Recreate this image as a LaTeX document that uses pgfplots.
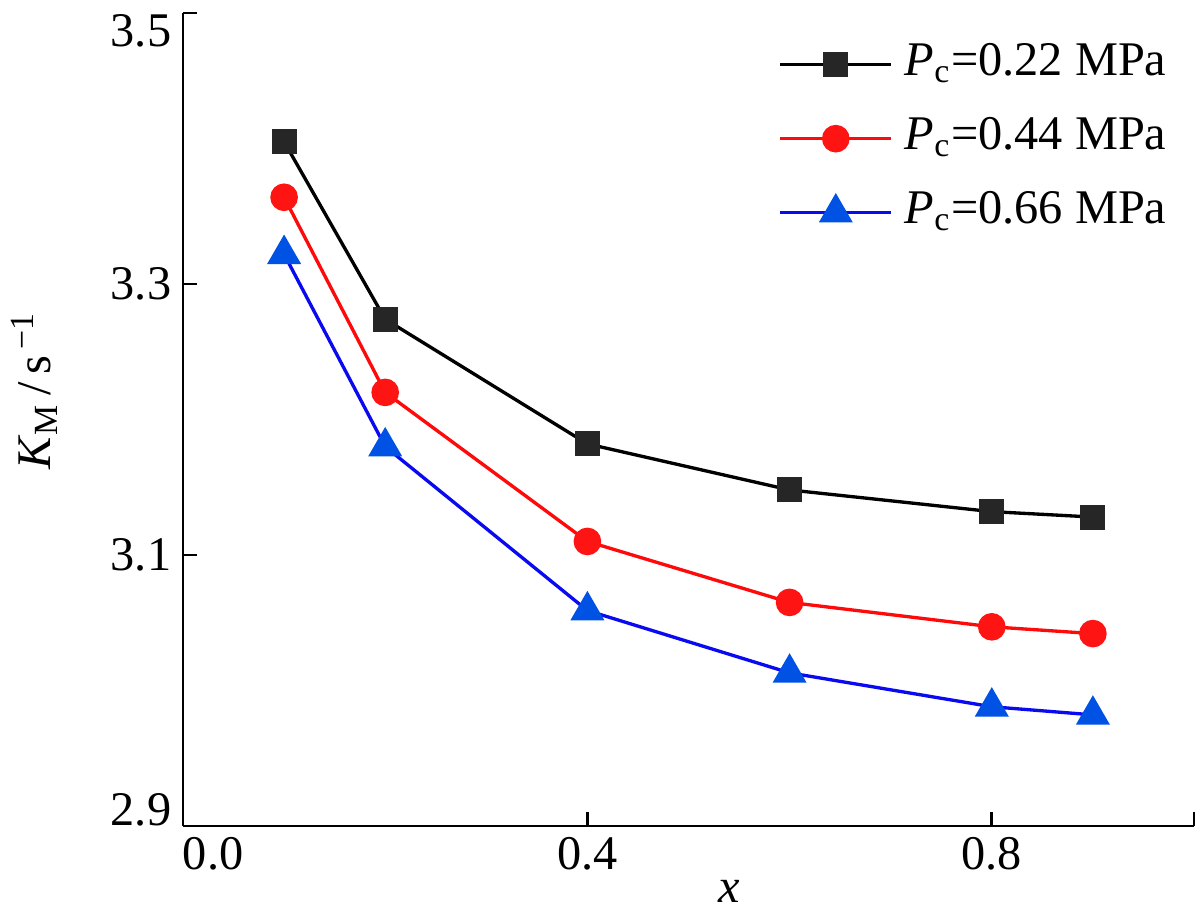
\documentclass[border=0pt]{standalone}
\usepackage{fontspec}
\setmainfont{Liberation Serif}
\usepackage{pgfplots}
\pgfplotsset{compat=1.18}

\definecolor{sqfill}{RGB}{38,38,38}
\definecolor{redline}{RGB}{255,10,10}
\definecolor{redmark}{RGB}{255,20,20}
\definecolor{blueline}{RGB}{10,10,240}
\definecolor{bluemark}{RGB}{0,82,228}

% K_M versus x for three chamber pressures
\pgfplotstableread{
x     k
0.1   3.405
0.2   3.274
0.4   3.182
0.6   3.148
0.8   3.132
0.9   3.128
}\pa
\pgfplotstableread{
x     k
0.1   3.364
0.2   3.220
0.4   3.110
0.6   3.065
0.8   3.047
0.9   3.042
}\pb
\pgfplotstableread{
x     k
0.1   3.322
0.2   3.180
0.4   3.059
0.6   3.013
0.8   2.988
0.9   2.982
}\pc

\begin{document}
\begin{tikzpicture}
\begin{axis}[
  scale only axis,
  width=303.3pt, height=243.9pt,
  xmin=0, xmax=1.0,
  ymin=2.9, ymax=3.5,
  axis lines*=left,
  axis line style={-, line width=0.8pt, black},
  tick align=inside,
  major tick length=4.2pt,
  tick style={line width=0.8pt, black},
  xtick={0,0.4,0.8,1.0},
  % end labels are pulled inside the axis span
  xticklabels={\rlap{0.0},0.4,0.8,{}},
  ytick={2.9,3.1,3.3,3.5},
  yticklabels={\raisebox{0pt}[0pt][0pt]{2.9},3.1,3.3,\raisebox{-0.69em}[0pt][0pt]{3.5}},
  tick label style={font=\fontsize{14.5}{17}\selectfont},
  label style={font=\fontsize{14.5}{17}\selectfont},
  xlabel={\textit{x}},
  ylabel={\textit{K}\textsubscript{M}\,/\,s\textsuperscript{\,−1}},
  xlabel style={at={(axis description cs:0.54,-0.08)}, anchor=center},
  ylabel style={at={(axis description cs:-0.147,0.535)}, anchor=center},
  legend cell align=left,
  legend style={
    at={(axis description cs:0.5885,0.967)}, anchor=north west,
    draw=none, fill=none, inner sep=0pt,
    row sep=7.7pt, column sep=3.6pt,
    font=\fontsize{14.5}{17}\selectfont,
    nodes={inner sep=0pt, text height=10.5pt, text depth=4pt},
  },
  legend image code/.code={
    \draw[mark repeat=2, mark phase=2]
      plot coordinates {(0pt,0pt) (16.65pt,0pt) (33.3pt,0pt)};
  },
]
\addplot[black, line width=1pt, mark=square*, mark size=3.5pt,
  mark options={fill=sqfill, draw=sqfill, line width=0.5pt}]
  table[x=x, y=k] {\pa};
\addlegendentry{\textit{P}\textsubscript{c}=0.22 MPa}
\addplot[redline, line width=1pt, mark=*, mark size=3.9pt,
  mark options={fill=redmark, draw=redmark, line width=0.5pt}]
  table[x=x, y=k] {\pb};
\addlegendentry{\textit{P}\textsubscript{c}=0.44 MPa}
\addplot[blueline, line width=1pt, mark=triangle*, mark size=5.4pt,
  mark options={fill=bluemark, draw=bluemark, line width=0.5pt}]
  table[x=x, y=k] {\pc};
\addlegendentry{\textit{P}\textsubscript{c}=0.66 MPa}
\coordinate (bl) at (axis description cs:0,0);
\end{axis}
\pgfresetboundingbox
\path ([shift={(-54.9pt,-25.2pt)}]bl) rectangle ++(360pt,273pt);
\end{tikzpicture}
\end{document}
